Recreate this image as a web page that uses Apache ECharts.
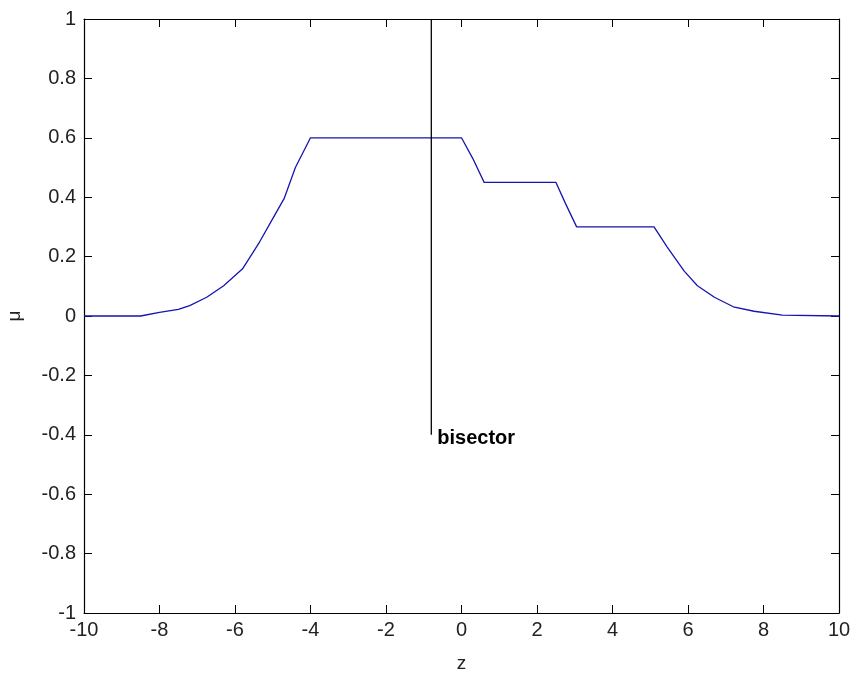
<!DOCTYPE html>
<html>
<head>
<meta charset="utf-8">
<script src="https://cdn.jsdelivr.net/npm/echarts@6/dist/echarts.min.js"></script>
<style>html,body{margin:0;padding:0;background:#fff;}#c{width:854px;height:673px;}</style>
</head>
<body>
<div id="c"></div>
<script>
const zValues = [-10, -8.5, -8, -7.5, -7.2, -6.75, -6.3, -5.8, -5.35, -5, -4.7, -4.4, -4, 0, 0.3, 0.6, 2.5, 2.75, 3.05, 5.1, 5.45, 5.9, 6.25, 6.7, 7.2, 7.75, 8.5, 10];
const muValues = [0, 0, 0.012, 0.022, 0.035, 0.063, 0.102, 0.159, 0.249, 0.328, 0.395, 0.5, 0.6, 0.6, 0.53, 0.45, 0.45, 0.38, 0.3, 0.3, 0.232, 0.151, 0.102, 0.063, 0.031, 0.016, 0.003, 0];
const bisectorZ = -0.8;
const bisectorTop = 1;
const bisectorBottom = -0.4;
const bisectorLabel = 'bisector';
const xLabel = 'z';
const yLabel = 'μ';

const font = 'Liberation Sans, Arial, sans-serif';
const chart = echarts.init(document.getElementById('c'));
const tickStyle = {show: true, inside: true, length: 8, lineStyle: {color: '#000', width: 1}};
const axisLineStyle = {show: true, onZero: false, lineStyle: {color: '#000', width: 1.2}};
chart.setOption({
  animation: false,
  backgroundColor: '#fff',
  grid: {left: 84, right: 15, top: 19, bottom: 60, containLabel: false, outerBoundsMode: 'none'},
  xAxis: [{
    type: 'value', min: -10, max: 10, interval: 2,
    name: xLabel, nameLocation: 'middle', nameGap: 41,
    nameTextStyle: {color: '#222', fontSize: 19, fontFamily: font},
    axisLine: axisLineStyle, axisTick: tickStyle, splitLine: {show: false},
    axisLabel: {color: '#222', fontSize: 20, fontFamily: font, margin: 7}
  }, {
    type: 'value', min: -10, max: 10, interval: 2, position: 'top',
    axisLine: axisLineStyle, axisTick: tickStyle, splitLine: {show: false},
    axisLabel: {show: false}
  }],
  yAxis: [{
    type: 'value', min: -1, max: 1, interval: 0.2,
    name: yLabel, nameLocation: 'middle', nameGap: 60,
    nameTextStyle: {color: '#222', fontSize: 19, fontFamily: font},
    axisLine: axisLineStyle, axisTick: tickStyle, splitLine: {show: false},
    axisLabel: {color: '#222', fontSize: 20, fontFamily: font, margin: 8,
      formatter: v => String(Math.round(v * 10) / 10)}
  }, {
    type: 'value', min: -1, max: 1, interval: 0.2, position: 'right',
    axisLine: axisLineStyle, axisTick: tickStyle, splitLine: {show: false},
    axisLabel: {show: false}
  }],
  series: [{
    type: 'line',
    data: zValues.map((z, i) => [z, muValues[i]]),
    showSymbol: false, symbol: 'none',
    lineStyle: {color: '#1515b0', width: 1.3},
    silent: true
  }, {
    type: 'line',
    data: [[bisectorZ, bisectorTop], [bisectorZ, bisectorBottom]],
    symbol: 'none',
    lineStyle: {color: '#000', width: 1.3},
    silent: true,
    endLabel: {
      show: true, formatter: bisectorLabel, color: '#000',
      fontSize: 20, fontWeight: 'bold', fontFamily: font, offset: [0, 4], distance: 6
    }
  }]
});
</script>
</body>
</html>
